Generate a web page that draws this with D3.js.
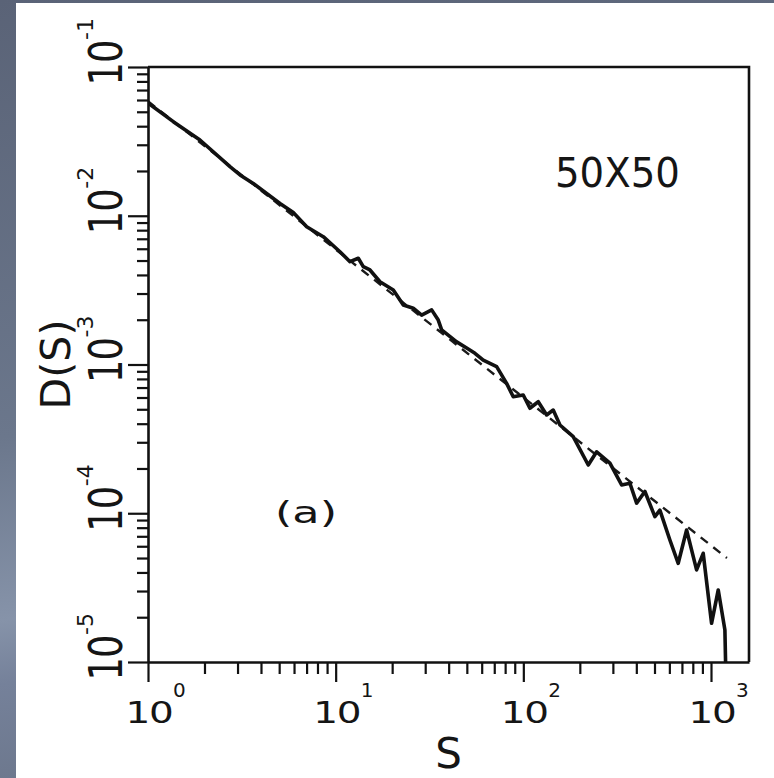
<!DOCTYPE html>
<html>
<head>
<meta charset="utf-8">
<script src="https://cdn.jsdelivr.net/npm/d3@7"></script>
<style>
  html, body { margin: 0; padding: 0; background: #ffffff; }
  svg { display: block; }
  text { font-family: "DejaVu Sans", sans-serif; fill: #151515; }
</style>
</head>
<body>
<svg id="chart" width="774" height="778"></svg>
<script>
// Avalanche size distribution D(S) on a 50x50 lattice, log-log.
const sizes = [1, 1.364, 1.892, 2.734, 3.092, 3.639, 5.05, 5.945, 7.007, 8.589,
  10.54, 11.92, 13.20, 14.03, 15.23, 17.22, 20.28, 22.93, 25.91, 28.72,
  32.47, 35.21, 36.71, 44.13, 49.89, 55.23, 61.14, 72.08, 81.47, 88.36,
  99.88, 108.4, 120.1, 133.1, 144.3, 156.7, 184.4, 221.8, 245.8, 289.3,
  334.0, 369.8, 401.5, 444.5, 502.4, 534.1, 603.9, 668.8, 741.3, 838.0,
  908.7, 1007, 1093, 1186, 1196];
const dist = [0.0573, 0.0429, 0.0323, 0.0214, 0.0188, 0.0165, 0.0121, 0.0105, 0.00844, 0.00723,
  0.00573, 0.00491, 0.00518, 0.00455, 0.00432, 0.00360, 0.00317, 0.00251, 0.00239, 0.00215,
  0.00233, 0.00199, 0.00171, 0.00142, 0.00129, 0.00119, 0.00107, 0.000967, 0.000747, 0.000607,
  0.000624, 0.000508, 0.000562, 0.000458, 0.000494, 0.000392, 0.000327, 0.000211, 0.000259, 0.000217,
  0.000155, 0.000159, 0.000117, 0.000140, 0.0000948, 0.000105, 0.0000661, 0.0000461, 0.0000772, 0.0000416,
  0.0000538, 0.0000182, 0.0000305, 0.0000164, 0.00001];

// Power-law fit (dashed), given by its two end points
const fitSizes = [1, 1216];
const fitDist = [0.0588, 0.0000500];

const xTickExps = [0, 1, 2, 3];
const yTickExps = [-1, -2, -3, -4, -5];
const xTitle = "S";
const yTitle = "D(S)";
const latticeLabel = "50X50";
const panelLabel = "(a)";

const svg = d3.select("#chart");
const W = 774, H = 778;
const plot = { left: 148, right: 749, top: 67, bottom: 662 };

// slide background with white card
const defs = svg.append("defs");
const grad = defs.append("linearGradient").attr("id", "bg")
  .attr("x1", 0).attr("y1", 0).attr("x2", 0.15).attr("y2", 1);
[["0", "#5a6377"], ["0.55", "#6b778c"], ["0.78", "#8693a9"], ["0.86", "#75819a"], ["1", "#6c778c"]]
  .forEach(([o, c]) => grad.append("stop").attr("offset", o).attr("stop-color", c));
svg.append("rect").attr("width", W).attr("height", H).attr("fill", "url(#bg)");
svg.append("rect").attr("x", 16).attr("y", 3).attr("width", W - 16).attr("height", H - 3).attr("fill", "#ffffff");

const x = d3.scaleLog().domain([1, Math.pow(10, 3.2025)]).range([plot.left, plot.right]);
const y = d3.scaleLog().domain([1e-5, 1e-1]).range([plot.bottom, plot.top]);

const isMajor = v => Math.abs(Math.log10(v) - Math.round(Math.log10(v))) < 1e-6;

const clip = defs.append("clipPath").attr("id", "plotclip");
clip.append("rect").attr("x", plot.left).attr("y", plot.top)
  .attr("width", plot.right - plot.left).attr("height", plot.bottom - plot.top);

// fit line
const fitPts = fitSizes.map((s, i) => [s, fitDist[i]]);
svg.append("path")
  .attr("clip-path", "url(#plotclip)")
  .attr("d", d3.line().x(d => x(d[0])).y(d => y(d[1]))(fitPts))
  .attr("fill", "none").attr("stroke", "#1a1a1a")
  .attr("stroke-width", 2.4).attr("stroke-dasharray", "9,7");

// measured distribution
const pts = sizes.map((s, i) => [s, dist[i]]);
svg.append("path")
  .attr("clip-path", "url(#plotclip)")
  .attr("d", d3.line().x(d => x(d[0])).y(d => y(d[1]))(pts))
  .attr("fill", "none").attr("stroke", "#111")
  .attr("stroke-width", 3.6).attr("stroke-linejoin", "round");

// axes
const xAxis = svg.append("g").attr("transform", `translate(0,${plot.bottom})`)
  .call(d3.axisBottom(x).tickValues(x.ticks()).tickFormat("").tickSizeOuter(0));
xAxis.selectAll(".tick line").attr("y2", d => isMajor(d) ? 20 : 12);
const yAxis = svg.append("g").attr("transform", `translate(${plot.left},0)`)
  .call(d3.axisLeft(y).tickValues(y.ticks()).tickFormat("").tickSizeOuter(0));
yAxis.selectAll(".tick line").attr("x2", d => isMajor(d) ? -20 : -11);
[xAxis, yAxis].forEach(a => {
  a.select(".domain").attr("stroke", "#111").attr("stroke-width", 2.6);
  a.selectAll(".tick line").attr("stroke", "#111").attr("stroke-width", 2.2);
});

// frame top and right
svg.append("path")
  .attr("d", `M${plot.left},${plot.top}H${plot.right}V${plot.bottom}`)
  .attr("fill", "none").attr("stroke", "#111").attr("stroke-width", 2.6);

// x tick labels 10^k (wide face)
xTickExps.forEach(k => {
  const px = x(Math.pow(10, k));
  svg.append("g").attr("transform", `translate(${px + 1},723) scale(1.3,1)`)
    .append("text").attr("text-anchor", "middle").attr("font-size", 30)
    .attr("letter-spacing", -1).text("10");
  svg.append("text").attr("x", px + 25).attr("y", 697)
    .attr("font-size", 20).text(String(k));
});

// y tick labels 10^k, rotated
yTickExps.forEach(k => {
  const py = y(Math.pow(10, k));
  const g = svg.append("g").attr("transform", `translate(122,${py}) rotate(-90)`);
  g.append("g").attr("transform", "translate(4,0) scale(0.78,1)")
    .append("text").attr("text-anchor", "middle").attr("font-size", 47)
    .attr("letter-spacing", -1).text("10");
  g.append("text").attr("x", 27).attr("y", -29)
    .attr("font-size", 22).text("-" + Math.abs(k));
});

// axis titles
svg.append("text").attr("x", (plot.left + plot.right) / 2).attr("y", 768)
  .attr("text-anchor", "middle").attr("font-size", 42).text(xTitle);
svg.append("g").attr("transform", `translate(70,${y(1e-3)}) rotate(-90)`)
  .append("text").attr("text-anchor", "middle").attr("font-size", 40)
  .attr("textLength", 90).attr("lengthAdjust", "spacingAndGlyphs").text(yTitle);

// annotations
svg.append("text").attr("x", 555).attr("y", 187).attr("font-size", 41)
  .attr("textLength", 125).attr("lengthAdjust", "spacingAndGlyphs").text(latticeLabel);
svg.append("text").attr("x", 275).attr("y", 523).attr("font-size", 31)
  .attr("textLength", 62).attr("lengthAdjust", "spacingAndGlyphs").text(panelLabel);
</script>
</body>
</html>
